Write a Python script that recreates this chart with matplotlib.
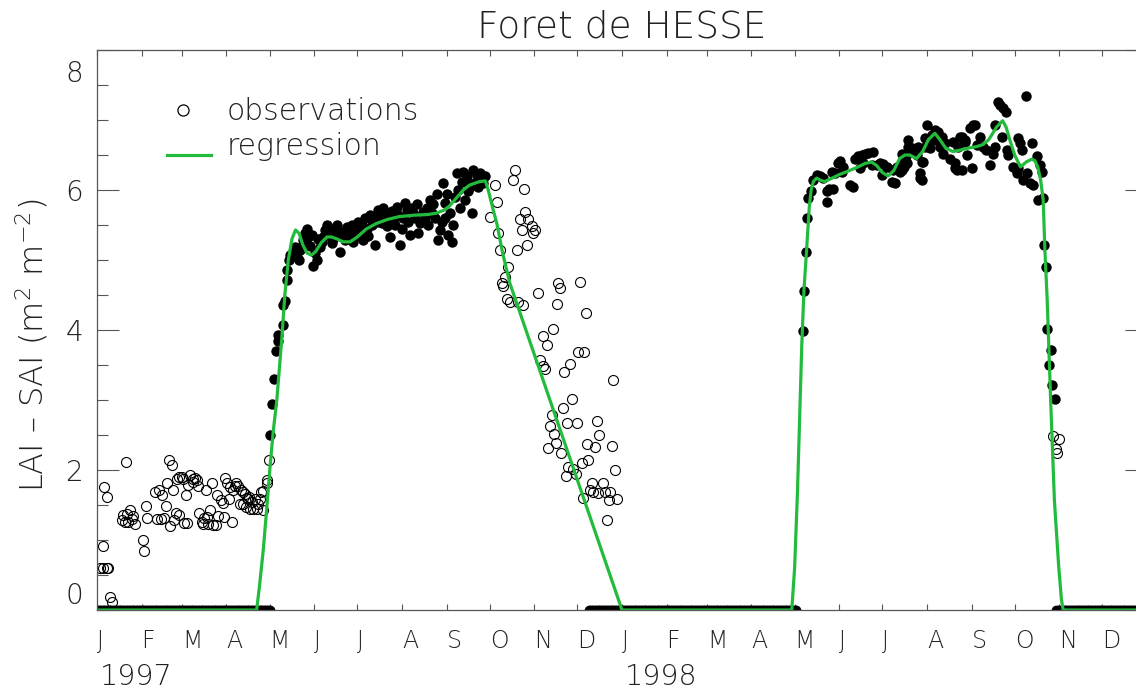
import numpy as np
import matplotlib.pyplot as plt
from matplotlib import font_manager, transforms

# eje x en dias desde el 1 de enero de 1997
MONTH_START = [0, 31, 59, 90, 120, 151, 181, 212, 243, 273, 304, 334,
               365, 396, 424, 455, 485, 516, 546, 577, 608, 638, 669, 699]
MONTH_LABELS = list("JFMAMJJASOND") * 2
YEARS = ["1997", "1998"]
YEAR_DAY = [0, 365]

# observaciones usadas en la regresion (puntos llenos), temporada 1997
obs97_day = [120.3, 121.4, 123.0, 124.5, 125.5, 126.1, 129.6, 129.6, 130.7, 131.9,
             132.4, 133.7, 134.2, 136.1, 137.7, 138.8, 140.7, 141.2, 143.5, 145.8,
             147.0, 149.3, 151.6, 150.4, 152.7, 155.1, 156.2, 158.5, 160.9, 163.2,
             165.5, 167.8, 169.0, 172.4, 175.9, 178.2, 180.6, 182.9, 185.2, 187.5,
             189.8, 192.1, 193.3, 195.6, 197.9, 199.1, 201.4, 202.6, 203.7, 206.0,
             208.4, 210.7, 211.8, 213.0, 214.2, 215.3, 217.6, 219.9, 223.4, 224.6,
             226.9, 231.5, 232.7, 236.2, 237.3, 238.5, 239.6, 240.8, 242.0, 243.1,
             244.3, 245.4, 246.6, 247.8, 250.1, 252.4, 254.7, 255.9, 257.0, 258.2,
             260.5, 261.7, 264.0, 266.3, 267.4, 268.5, 270.0,
             142.5, 144.8, 148.2, 153.8, 157.3, 159.7, 162.0, 164.3, 166.6, 170.1,
             173.6, 177.0, 179.4, 181.7, 184.0, 186.4, 188.7, 191.0, 194.4, 196.7,
             200.2, 204.8, 207.2, 209.5, 216.5, 218.8, 221.1, 222.2, 228.0, 229.2,
             230.4, 233.8, 235.0, 241.9, 248.9, 251.3, 253.6, 256.9, 259.3, 262.8,
             265.1]
obs97_lai = [2.50, 2.95, 3.30, 3.70, 3.85, 3.93, 4.07, 4.36, 4.41, 4.72,
             4.86, 5.00, 5.07, 5.12, 5.19, 5.05, 5.00, 5.14, 5.29, 5.45,
             5.33, 5.36, 5.10, 4.91, 5.00, 5.19, 5.26, 5.43, 5.36, 5.24,
             5.41, 5.36, 5.12, 5.29, 5.38, 5.26, 5.43, 5.38, 5.29, 5.45,
             5.64, 5.60, 5.22, 5.72, 5.53, 5.74, 5.48, 5.64, 5.33, 5.57,
             5.76, 5.22, 5.45, 5.60, 5.81, 5.72, 5.36, 5.67, 5.38, 5.53,
             5.69, 5.86, 5.67, 5.95, 5.29, 5.43, 5.55, 6.10, 5.81, 5.95,
             5.36, 5.67, 5.26, 5.50, 6.24, 5.74, 6.26, 5.86, 6.14, 5.98,
             5.67, 6.29, 6.21, 6.24, 6.19, 6.10, 6.20,
             5.20, 5.38, 5.20, 5.30, 5.33, 5.50, 5.45, 5.30, 5.50, 5.40,
             5.47, 5.50, 5.35, 5.55, 5.50, 5.60, 5.35, 5.50, 5.55, 5.65,
             5.60, 5.70, 5.50, 5.65, 5.55, 5.75, 5.60, 5.80, 5.60, 5.75,
             5.50, 5.80, 5.60, 5.60, 5.90, 6.00, 6.12, 6.20, 6.05, 6.10,
             6.05]

# temporada 1998
obs98_day = [490.6, 491.5, 492.9, 493.8, 494.5, 496.1, 497.5, 500.3, 502.6, 504.9,
             507.2, 509.1, 511.9, 507.7, 510.7, 513.0, 515.4, 516.5, 518.8, 517.7,
             523.5, 525.8, 527.0, 529.3, 531.6, 533.9, 536.2, 539.7, 530.4, 532.7,
             538.5, 542.0, 544.3, 546.6, 549.0, 545.5, 552.4, 554.7, 572.1, 553.6,
             555.9, 558.2, 561.0, 562.9, 559.4, 564.0, 566.3, 569.8, 573.3, 576.8,
             580.2, 583.2, 579.1, 575.6, 588.3, 593.0, 596.5, 601.1, 608.0, 595.3,
             599.9, 603.4, 609.2, 586.0, 589.5, 560.5, 559.4, 562.4, 564.0, 568.6,
             570.9, 572.1, 573.3, 574.0, 575.6, 577.9, 582.5, 584.8, 587.2, 588.3,
             596.4, 597.6, 598.8, 601.1, 603.4, 606.9, 610.3, 604.5, 611.5, 613.8,
             616.1, 618.4, 620.8, 623.1, 624.3, 624.3, 626.6, 627.7, 630.0, 631.9,
             628.9, 645.8, 632.4, 633.5, 637.0, 639.3, 640.5, 641.6, 643.9, 646.3,
             648.6, 649.7, 650.9, 653.2, 655.5, 656.7, 654.4, 657.8, 640.5, 642.8,
             658.5, 659.5, 660.6, 662.9, 662.0, 663.6, 666.0]
obs98_lai = [3.98, 4.56, 5.12, 5.60, 5.88, 5.99, 6.14, 6.21, 6.20, 6.17,
             5.99, 6.02, 6.01, 5.83, 6.26, 6.25, 6.38, 6.41, 6.33, 6.26,
             6.07, 6.04, 6.45, 6.48, 6.50, 6.52, 6.53, 6.55, 6.31, 6.38,
             6.36, 6.36, 6.38, 6.37, 6.33, 6.21, 6.12, 6.10, 6.17, 6.29,
             6.33, 6.26, 6.33, 6.39, 6.52, 6.71, 6.60, 6.50, 6.40, 6.93,
             6.79, 6.72, 6.60, 6.62, 6.52, 6.45, 6.31, 6.29, 6.31, 6.69,
             6.76, 6.71, 6.93, 6.62, 6.67, 6.38, 6.29, 6.48, 6.62, 6.55,
             6.62, 6.24, 6.14, 6.40, 6.74, 6.67, 6.86, 6.83, 6.76, 6.67,
             6.38, 6.28, 6.62, 6.76, 6.69, 6.88, 6.93, 6.50, 6.64, 6.76,
             6.62, 6.57, 6.36, 6.52, 6.62, 6.93, 7.26, 7.21, 7.17, 7.12,
             6.76, 7.34, 6.57, 6.50, 6.33, 6.24, 6.31, 6.67, 6.14, 6.24,
             6.10, 6.67, 6.07, 6.48, 6.36, 6.26, 5.86, 5.88, 6.74, 6.57,
             5.21, 4.90, 4.01, 3.71, 3.50, 3.22, 3.02]

# periodos sin hojas: observaciones diarias forzadas a cero (puntos llenos)
zero_start = [0, 342, 667]
zero_end = [120, 486, 730]

# observaciones descartadas (circulos vacios)
out_day = [2.1, 4.4, 6.7, 7.9, 3.9, 4.9, 6.7, 9.2, 10.2,
           17.1, 19.5, 21.8, 24.1, 20.6, 22.9, 24.8, 26.4, 17.8, 19.9,
           31.7, 32.7, 34.1, 34.5, 40.3, 43.3, 45.0, 41.5, 44.3, 46.8,
           48.0, 48.9, 50.1, 51.9, 50.7, 52.6, 53.5, 54.9, 57.2, 55.4,
           57.2, 58.9, 59.6, 60.5, 62.8, 61.9, 63.5, 64.7, 66.5, 68.1,
           69.3, 66.5, 70.4, 71.1, 72.8, 74.4, 76.2, 78.6, 77.4, 80.4,
           82.7, 73.9, 84.3, 75.8, 79.7, 83.2, 86.0, 87.4, 88.3, 92.0,
           94.1, 89.0, 90.1, 92.5, 94.8, 96.6, 95.9, 98.2, 99.9, 101.7,
           99.4, 101.3, 104.0, 105.2, 102.9, 105.9, 103.6, 106.4, 108.7, 111.0,
           107.5, 109.8, 113.3, 115.6, 112.2, 113.8, 115.6, 117.9, 118.4, 119.8,
           276.6, 277.8, 273.2, 290.5, 289.4, 296.8, 279.0, 280.1, 285.9, 283.6,
           281.3, 282.4, 284.8, 287.1, 292.9, 295.9, 291.7, 298.7, 294.0, 297.5,
           299.8, 295.2, 302.1, 304.4, 303.3, 306.8, 320.7, 321.8, 319.5, 335.7,
           339.9, 316.7, 309.8, 312.6, 307.9, 310.2, 311.4, 324.6, 328.8, 334.6,
           338.5, 358.4, 329.9, 323.7, 316.0, 314.9, 326.5, 333.9, 317.7, 319.0,
           313.7, 322.8, 347.8, 349.2, 340.8, 346.2, 357.7, 336.9, 341.5, 327.6,
           331.1, 326.0, 332.9, 360.1, 343.8, 352.0, 342.7, 345.0, 348.5, 353.1,
           356.6, 361.2, 356.1, 337.6, 354.7,
           664.8, 669.0, 666.6, 667.6]
out_lai = [0.60, 0.60, 0.60, 0.60, 0.92, 1.76, 1.62, 0.19, 0.11,
           1.28, 1.26, 1.26, 1.30, 1.37, 1.43, 1.34, 1.23, 1.36, 2.12,
           1.00, 0.84, 1.48, 1.31, 1.69, 1.72, 1.64, 1.30, 1.30, 1.32,
           1.48, 1.82, 2.15, 2.07, 1.20, 1.72, 1.29, 1.39, 1.36, 1.87,
           1.90, 1.90, 1.87, 1.24, 1.24, 1.64, 1.79, 1.93, 1.87, 1.88,
           1.86, 1.83, 1.77, 1.38, 1.26, 1.31, 1.33, 1.43, 1.23, 1.21,
           1.21, 1.23, 1.34, 1.72, 1.81, 1.64, 1.57, 1.53, 1.33, 1.58,
           1.26, 1.88, 1.82, 1.76, 1.72, 1.82, 1.77, 1.77, 1.72, 1.69,
           1.51, 1.51, 1.60, 1.58, 1.66, 1.62, 1.47, 1.45, 1.45, 1.44,
           1.55, 1.58, 1.58, 1.43, 1.52, 1.68, 1.70, 1.82, 1.86, 2.15,
           6.07, 5.83, 5.62, 6.29, 6.14, 6.02, 5.39, 5.14, 4.90, 4.76,
           4.67, 4.63, 4.44, 4.40, 4.40, 4.36, 5.14, 5.21, 5.58, 5.69,
           5.59, 5.43, 5.48, 5.43, 5.38, 4.53, 4.67, 4.60, 4.37, 4.68,
           4.25, 4.02, 3.91, 3.79, 3.57, 3.48, 3.45, 3.40, 3.51, 3.68,
           3.68, 3.29, 3.01, 2.89, 2.79, 2.63, 2.67, 2.67, 2.51, 2.39,
           2.32, 2.24, 2.70, 2.50, 2.37, 2.33, 2.35, 2.10, 2.15, 2.05,
           2.02, 1.91, 1.95, 2.00, 1.81, 1.81, 1.71, 1.68, 1.67, 1.69,
           1.68, 1.58, 1.57, 1.60, 1.28,
           2.48, 2.44, 2.30, 2.25]

# curva de regresion
fit_day = [0, 111, 113, 115.6, 118, 120.3, 122.5, 125, 128.4, 130.7, 133, 135.5,
           138, 140.5, 143, 146, 149, 152, 156, 160, 163, 167, 171, 176, 181,
           187, 194, 202, 210, 220, 230, 236, 241, 245, 250, 254.6, 259, 263,
           266, 270, 272, 275, 278, 282, 287, 365,
           483, 485, 487, 489, 490, 491.5, 493.3, 495.2, 496.5, 498, 500.3, 503,
           506, 511, 516, 521, 528, 534, 538.5, 542, 546, 550, 554, 558, 561.7,
           565, 569.8, 574, 578, 582.5, 586, 590, 595, 600, 606, 611.5, 616,
           620, 625.4, 629.6, 632, 634.7, 638, 642, 646, 649.8, 652, 654, 656,
           657.8, 659, 660.6, 663, 665.6, 668.6, 670.5, 671.7, 730]
fit_lai = [0, 0, 0.35, 0.86, 1.45, 2.05, 2.55, 3.0, 3.86, 4.53, 5.0, 5.3,
           5.43, 5.38, 5.22, 5.1, 5.07, 5.12, 5.25, 5.33, 5.33, 5.3, 5.26, 5.26, 5.33,
           5.44, 5.52, 5.58, 5.62, 5.64, 5.65, 5.67, 5.71, 5.77, 5.89, 6.0, 6.07, 6.1,
           6.12, 6.13, 6.0, 5.75, 5.52, 5.1, 4.67, 0,
           0, 0.6, 1.7, 3.1, 3.8, 4.57, 5.14, 5.76, 6.0, 6.12, 6.17, 6.14,
           6.12, 6.17, 6.22, 6.26, 6.32, 6.38, 6.4, 6.35, 6.25, 6.2, 6.28, 6.45, 6.5,
           6.5, 6.45, 6.55, 6.72, 6.81, 6.72, 6.6, 6.55, 6.57, 6.6, 6.62, 6.65,
           6.72, 6.9, 6.99, 6.9, 6.71, 6.5, 6.33, 6.4, 6.44, 6.42, 6.33, 6.15,
           5.86, 5.14, 4.43, 3.0, 1.57, 0.62, 0.15, 0, 0]

GREEN = "#22bb3c"
INK = "#222222"
AXC = "#555555"


def pick_light_font():
    # busca una familia instalada con variante fina (parecida a la fuente de IDL)
    for fam in ["DejaVu Sans", "Lato", "Open Sans", "Roboto", "Noto Sans"]:
        for f in font_manager.fontManager.ttflist:
            w = f.weight
            if not isinstance(w, int):
                w = font_manager.weight_dict.get(w, 400)
            if f.name == fam and w <= 300 and f.style == "normal":
                return fam
    return "DejaVu Sans"


FONT = pick_light_font()
plt.rcParams["font.family"] = [FONT, "DejaVu Sans"]
plt.rcParams["font.weight"] = "light"
plt.rcParams["axes.titleweight"] = "light"
plt.rcParams["mathtext.fontset"] = "custom"
plt.rcParams["mathtext.rm"] = FONT + ":light"
plt.rcParams["mathtext.it"] = FONT + ":light"
plt.rcParams["mathtext.default"] = "regular"

fig = plt.figure(figsize=(11.36, 6.9), dpi=100)
ax = fig.add_axes([0.0854, 0.1159, 0.9243, 0.8116])

zero_days = np.concatenate([np.arange(a, b + 1) for a, b in zip(zero_start, zero_end)])
ax.plot(zero_days, np.zeros(len(zero_days)), "o", color="black", ms=7, mew=0)
ax.plot(obs97_day, obs97_lai, "o", color="black", ms=7.5, mew=0, clip_on=False)
ax.plot(obs98_day, obs98_lai, "o", color="black", ms=7.5, mew=0, clip_on=False)
ax.plot(out_day, out_lai, "o", mfc="none", mec="black", ms=7.2, mew=0.8)
ax.plot(fit_day, fit_lai, color=GREEN, lw=2.3, solid_joinstyle="round")

ax.set_xlim(0, 730)
ax.set_ylim(0, 8)

ax.set_xticks(MONTH_START, MONTH_LABELS)
for lbl in ax.get_xticklabels():
    lbl.set_ha("left")
ax.tick_params(axis="x", which="major", direction="in", length=4.3, width=0.8,
               top=True, color=AXC, pad=14, labelsize=17, labelcolor=INK)

ax.set_yticks([0, 2, 4, 6, 8], ["0", "2", "4", "6", "8"])
ax.set_yticks(np.arange(0, 8.01, 0.5), minor=True)
ax.tick_params(axis="y", which="major", direction="in", length=15.8, width=0.8,
               right=True, color=AXC, pad=10, labelsize=20, labelcolor=INK)
ax.tick_params(axis="y", which="minor", direction="in", length=7.9, width=0.8,
               right=True, color=AXC)
ylbl = ax.get_yticklabels()
ylbl[0].set_va("bottom")
ylbl[-1].set_va("top")
ylbl[-1].set_transform(ylbl[-1].get_transform()
                       + transforms.ScaledTranslation(0, -7 / 72, fig.dpi_scale_trans))

for sp in ax.spines.values():
    sp.set_color(AXC)
    sp.set_linewidth(0.9)

for yr, d in zip(YEARS, YEAR_DAY):
    ax.text(d + 2, -0.133, yr, transform=ax.get_xaxis_transform(),
            ha="left", va="baseline", fontsize=20.5, color=INK)

ax.text(-0.062, 0.473, "LAI \u2013 SAI (m$^{2}$ m$^{-2}$)", transform=ax.transAxes,
        rotation=90, ha="center", va="center", fontsize=23, color=INK)
ax.set_title("Foret de HESSE", fontsize=27, color=INK, pad=9)

# leyenda manual
ax.plot([0.0819], [0.893], "o", mfc="none", mec="black", ms=8, mew=0.9,
        transform=ax.transAxes)
ax.plot([0.0667, 0.1086], [0.8125, 0.8125], color=GREEN, lw=2.3,
        transform=ax.transAxes)
ax.text(0.1238, 0.875, "observations", transform=ax.transAxes,
        ha="left", va="baseline", fontsize=21.5, color=INK)
ax.text(0.1238, 0.8125, "regression", transform=ax.transAxes,
        ha="left", va="baseline", fontsize=21.5, color=INK)

fig.savefig("out.png", dpi=100)
